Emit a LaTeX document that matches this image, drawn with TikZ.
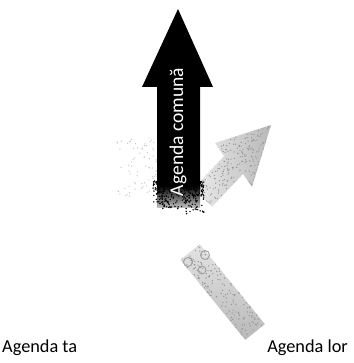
\documentclass[tikz,border=0pt]{standalone}
\usepackage{fontspec}
\setmainfont{Carlito}
\begin{document}
\begin{tikzpicture}[x=1pt,y=1pt,
  label/.style={font=\fontsize{18.3}{20}\selectfont, inner sep=0pt}]
\useasboundingbox (0,0) rectangle (353,363);
\pgfmathsetseed{4711}

% faint speckles left of the main arrow
\foreach \i in {1,...,70}{
  \pgfmathsetmacro\px{117+40*rnd}
  \pgfmathsetmacro\py{166+60*rnd}
  \fill[gray!45] (\px,\py) circle (0.7);
}

% grey arrow pointing up-right
\path[left color=gray!15, right color=gray!55]
  (193.2,174.1) -- (224,206.9) -- (215,220) -- (271,238) -- (252,176)
  -- (243,189.1) -- (212.2,156.3) -- cycle;
\begin{scope}
  \clip (193.2,174.1) -- (224,206.9) -- (215,220) -- (271,238) -- (252,176)
    -- (243,189.1) -- (212.2,156.3) -- cycle;
  \foreach \i in {1,...,450}{
    \pgfmathsetmacro\px{193+78*rnd}
    \pgfmathsetmacro\py{156+82*rnd}
    \fill[gray!80] (\px,\py) circle (0.7);
  }
\end{scope}

% grey bar rising from the lower right
\path[top color=gray!22, bottom color=gray!55]
  (245.3,23.1) -- (264.8,38.9) -- (199.8,118.9) -- (180.3,103.1) -- cycle;
\begin{scope}
  \clip (245.3,23.1) -- (264.8,38.9) -- (199.8,118.9) -- (180.3,103.1) -- cycle;
  \foreach \i in {1,...,480}{
    \pgfmathsetmacro\px{180+85*rnd}
    \pgfmathsetmacro\py{23+96*rnd}
    \fill[gray!85] (\px,\py) circle (0.7);
  }
\end{scope}
\draw[gray!75, line width=0.9] (188,101) circle (4.5) (205,108) circle (4.5) (202,93) circle (4);

% main black arrow
\fill[black] (157,177) -- (157,276) -- (142,276) -- (178,354) -- (213,276)
  -- (200,276) -- (200,177) -- cycle;
\shade[top color=black, bottom color=gray!45] (157,155) rectangle (200,177.5);
\begin{scope}
  \clip (152,146) rectangle (205,182);
  \foreach \i in {1,...,420}{
    \pgfmathsetmacro\px{153+51*rnd}
    \pgfmathsetmacro\py{182-36*rnd*rnd}
    \fill[black] (\px,\py) circle (0.8);
  }
\end{scope}

\node[text=white, rotate=90, font=\fontsize{19.5}{21}\selectfont, inner sep=0pt]
  (comuna) at (178,231) {Agenda comună};

% labels
\node[label, anchor=base west] (ta) at (2,10) {Agenda ta};
\node[label, anchor=base east] (lor) at (348,10) {Agenda lor};
\end{tikzpicture}
\end{document}
